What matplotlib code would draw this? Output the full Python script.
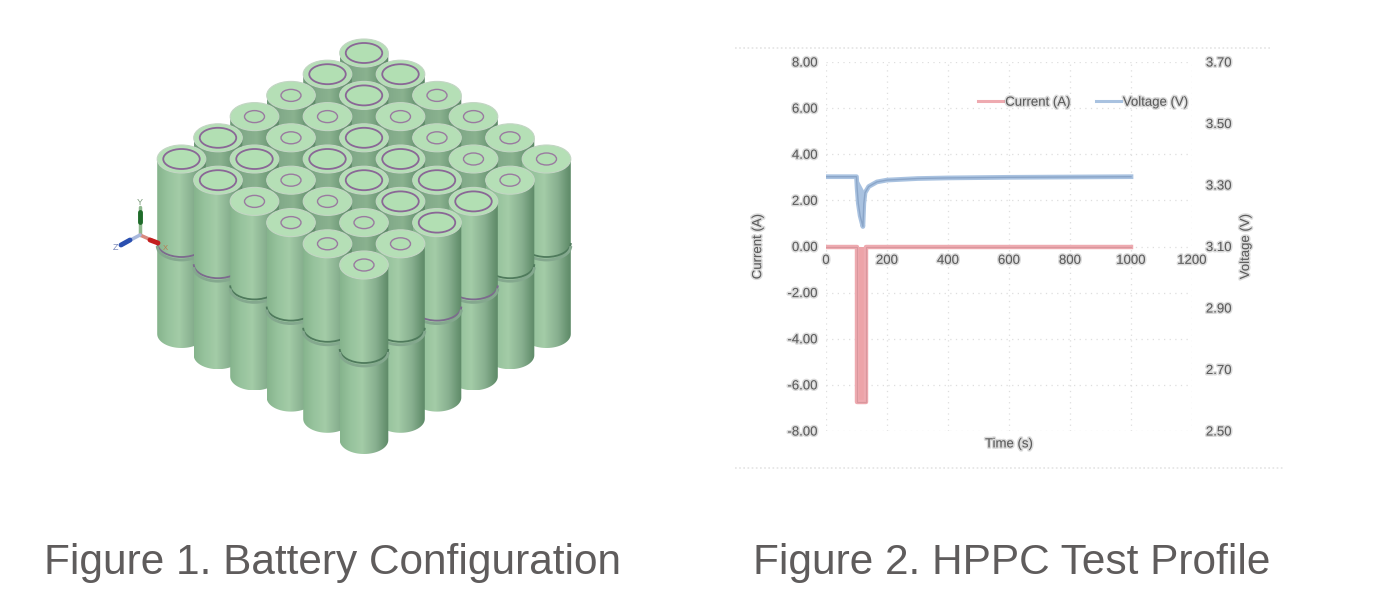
#!/usr/bin/env python3
# -*- coding: utf-8 -*-

import matplotlib
matplotlib.use('Agg')
import matplotlib.pyplot as plt
import matplotlib.patheffects as pe
from matplotlib.colors import LinearSegmentedColormap
from matplotlib.patches import Ellipse, Arc, Polygon
import numpy as np

plt.rcParams['font.family'] = ['Liberation Sans', 'DejaVu Sans']

# Datos HPPC
tiempo_i = [0, 100, 100, 130, 130, 1000]
corriente = [0.0, 0.0, -6.76, -6.76, 0.0, 0.0]
tiempo_v = [0, 100, 102, 106, 112, 121, 124, 128, 140, 167, 200, 300, 400, 600, 1000]
voltaje = [3.327, 3.327, 3.29, 3.24, 3.20, 3.165, 3.24, 3.275, 3.295, 3.31, 3.316, 3.321, 3.323, 3.325, 3.327]

x_ticks = [0, 200, 400, 600, 800, 1000, 1200]
i_ticks = [-8, -6, -4, -2, 0, 2, 4, 6, 8]
v_ticks = [2.5, 2.7, 2.9, 3.1, 3.3, 3.5, 3.7]

# Tipo de polo de cada celda (1 = anillo grande, 0 = anillo pequeño)
polos = [[1, 1, 0, 0, 0, 0],
         [1, 1, 0, 0, 0, 0],
         [0, 0, 1, 1, 1, 1],
         [0, 0, 1, 1, 1, 1],
         [1, 1, 0, 0, 0, 0],
         [1, 1, 0, 0, 0, 0]]

titulo_1 = 'Figure 1. Battery Configuration'
titulo_2 = 'Figure 2. HPPC Test Profile'

fig = plt.figure(figsize=(13.75, 6.10), dpi=100)
W, H = 1375, 610

# Eje de fondo en píxeles para la ilustración
bg = fig.add_axes([0, 0, 1, 1])
bg.set_xlim(0, W)
bg.set_ylim(H, 0)
bg.axis('off')

cuerpo = LinearSegmentedColormap.from_list('cuerpo', [
    (0.0, '#86b48d'), (0.2, '#96c29c'), (0.45, '#a3cca7'),
    (0.75, '#86ae8e'), (0.92, '#6a9573'), (1.0, '#5e8a68')])
# Las celdas interiores solo enseñan el cuello, más oscuro
cuello = LinearSegmentedColormap.from_list('cuello', [
    (0.0, '#6f9a78'), (0.3, '#83ab8a'), (0.55, '#8ab28f'),
    (0.8, '#6f9a78'), (1.0, '#5e8a68')])
gradiente = np.linspace(0, 1, 64).reshape(1, -1)

rx, ry = 24.3, 14
alto = 175
junta = 84
t = np.linspace(0, np.pi, 40)

celdas = [(i, j) for i in range(6) for j in range(6)]
celdas.sort(key=lambda c: c[0] + c[1])

z = 2
for i, j in celdas:
    cx = 364 + 36.5 * (j - i)
    cy = 53 + 21.2 * (i + j)
    base = cy + alto
    pts = [(cx + rx * np.cos(a), base + ry * np.sin(a)) for a in t]
    pts += [(cx - rx, cy), (cx + rx, cy)]
    contorno = Polygon(pts, closed=True, transform=bg.transData, fc='none', ec='none')
    bg.add_patch(contorno)
    mapa = cuerpo if (i == 5 or j == 5) else cuello
    im = bg.imshow(gradiente, extent=[cx - rx, cx + rx, base + ry, cy], cmap=mapa,
                   aspect='auto', zorder=z, vmin=0, vmax=1)
    im.set_clip_path(contorno)
    contorno.set_zorder(z)

    # Junta entre las dos celdas apiladas
    color_junta = '#7d6a8e' if polos[i][j] else '#4f7a5c'
    yj = cy + junta
    bg.add_patch(Arc((cx, yj), 2 * rx, 2 * ry, theta1=0, theta2=180, color=color_junta, lw=1.3, zorder=z + 0.1))
    bg.add_patch(Arc((cx, yj + 3), 2 * rx, 2 * ry, theta1=0, theta2=180, color='#84a88e', lw=2, zorder=z + 0.1))

    # Cara superior y anillo
    bg.add_patch(Ellipse((cx, cy), 2 * rx, 2 * ry, fc='#b5dfb6', ec='#c3d6c4', lw=0.8, zorder=z + 0.2))
    if polos[i][j]:
        bg.add_patch(Ellipse((cx, cy), 36.5, 20, fc='#b2dfb3', ec='#8a6796', lw=1.3, zorder=z + 0.3))
    else:
        bg.add_patch(Ellipse((cx, cy), 20, 12, fc='#b2dfb3', ec='#9a7aa0', lw=1.0, zorder=z + 0.3))
    z += 1

# Triedro de ejes
triedro = [((140, 235), (140, 207), '#8fb98f', 2.5),
           ((140, 222), (140, 212), '#1f6b2a', 3.5),
           ((140, 235), (158, 243), '#d98a80', 2.5),
           ((150, 240), (158, 243), '#c41f1f', 3.5),
           ((140, 235), (121, 245), '#a8b8dc', 2.5),
           ((130, 240), (121, 245), '#2a4fb0', 3.5)]
for a, b, c, lw in triedro:
    bg.plot([a[0], b[0]], [a[1], b[1]], color=c, lw=lw, solid_capstyle='round', zorder=100)
bg.text(140, 207, 'Y', fontsize=6.5, color='#7a9a7a', ha='center', va='bottom', zorder=100)
bg.text(165, 248, 'X', fontsize=5.5, color='#b87a50', ha='center', va='center', zorder=100)
bg.text(116, 248, 'Z', fontsize=6.5, color='#7a88b8', ha='center', va='center', zorder=100)

# Líneas punteadas del marco de la imagen
bg.plot([735, 1272], [48, 48], color='#e4e4e4', lw=1.2, ls=(0, (1, 1.5)))
bg.plot([735, 1285], [468, 468], color='#e4e4e4', lw=1.2, ls=(0, (1, 1.5)))

# Títulos
bg.text(44, 574, titulo_1, fontsize=30.5, color='#5f5c5c', ha='left', va='baseline')
bg.text(753, 574, titulo_2, fontsize=30.5, color='#5f5c5c', ha='left', va='baseline')

# Gráfica HPPC
ax1 = fig.add_axes([826 / W, 1 - 431 / H, 366 / W, 369 / H])
ax1.patch.set_alpha(0)
ax2 = ax1.twinx()

ax1.set_xlim(0, 1200)
ax1.set_ylim(-8, 8)
ax2.set_ylim(2.5, 3.7)

ax1.fill_between(tiempo_i, corriente, 0, color='#eda3a8', lw=0)
ax1.plot(tiempo_i, corriente, color='#eeaab0', lw=3.2, label='Current (A)', solid_joinstyle='round')
ax1.plot(tiempo_i, corriente, color='#cf8f96', lw=0.8, alpha=0.7)
ax2.fill(tiempo_v[1:8], voltaje[1:8], color='#a9c2e0', lw=0)
ax2.plot(tiempo_v, voltaje, color='#a9c2e0', lw=3.4, label='Voltage (V)', solid_joinstyle='round')
ax2.plot(tiempo_v, voltaje, color='#8aa5c8', lw=1.0)

ax1.set_xticks(x_ticks)
ax1.set_yticks(i_ticks)
ax1.set_yticklabels([f'{v:.2f}' for v in i_ticks])
ax2.set_yticks(v_ticks)
ax2.set_yticklabels([f'{v:.2f}' for v in v_ticks])

ax1.grid(True, color='#dedede', lw=0.9, ls=(0, (1, 3.5)))
ax1.set_axisbelow(True)
for ax in (ax1, ax2):
    for lado in ax.spines.values():
        lado.set_visible(False)
ax1.spines['bottom'].set_position('zero')
ax1.tick_params(axis='both', length=0)
ax2.tick_params(axis='y', length=0, pad=10)
ax1.tick_params(axis='x', pad=6)
ax1.tick_params(axis='y', pad=6)

# Texto algo borroso, como en la imagen original
tam = 9.5
gris = '#5c5c5c'
borroso = [pe.withStroke(linewidth=2.2, foreground='#8a8a8a', alpha=0.3)]
textos = ax1.get_xticklabels() + ax1.get_yticklabels() + ax2.get_yticklabels()
for txt in textos:
    txt.set_fontsize(tam)
    txt.set_color(gris)
    txt.set_path_effects(borroso)

ax1.set_xlabel('Time (s)', fontsize=tam, color=gris, path_effects=borroso)
ax1.xaxis.set_label_coords(0.5, -0.02)
ax1.set_ylabel('Current (A)', fontsize=tam, color=gris, path_effects=borroso)
ax1.yaxis.set_label_coords(-0.169, 0.5)
ax2.set_ylabel('Voltage (V)', fontsize=tam, color=gris, path_effects=borroso)
ax2.yaxis.set_label_coords(1.131, 0.5)

h1, l1 = ax1.get_legend_handles_labels()
h2, l2 = ax2.get_legend_handles_labels()
leg = ax2.legend(h1 + h2, l1 + l2, ncol=2, frameon=False, fontsize=tam, loc='center right',
                 bbox_to_anchor=(0.99, 0.89), borderaxespad=0, borderpad=0, handlelength=1.9,
                 handletextpad=0.15, columnspacing=1.9)
for linea in leg.get_lines():
    linea.set_linewidth(2.2)
for txt in leg.get_texts():
    txt.set_color(gris)
    txt.set_path_effects(borroso)

plt.savefig('out.png', dpi=100)
